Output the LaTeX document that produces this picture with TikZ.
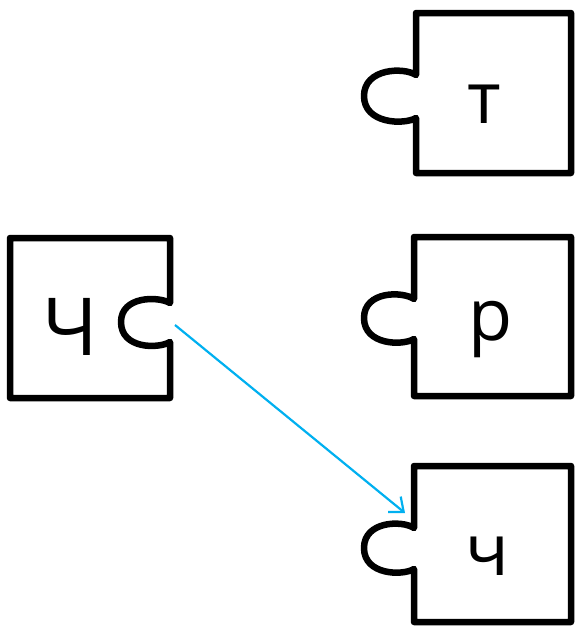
\documentclass[tikz,border=0pt]{standalone}
\usepackage{fontspec}
\newfontfamily\piecefont{Open Sans}
\usetikzlibrary{arrows.meta}
\definecolor{arrowblue}{HTML}{00B0F0}
\tikzset{
  piece/.style={draw=black,line width=6.5pt,line join=round,fill=white},
  lettercap/.style={font=\piecefont\fontsize{80}{80}\selectfont,anchor=base,inner sep=0pt},
  letterlow/.style={font=\piecefont\fontsize{72}{72}\selectfont,anchor=base,inner sep=0pt},
  link/.style={draw=arrowblue,line width=2.2pt,-{Straight Barb[length=12pt,width=20pt,line width=2.2pt]}}
}
\begin{document}
\begin{tikzpicture}[x=1pt,y=-1pt]
\useasboundingbox (0,0) rectangle (575,629);
% left piece with socket
\path[piece] (10,238) -- (170,238) -- (170,303)
  .. controls (158,296) and (121,296) .. (121,322)
  .. controls (121,349) and (158,349) .. (170,342)
  -- (170,398) -- (10,398) -- cycle;
% top right piece
\path[piece] (416,13) -- (571,13) -- (571,173) -- (416,173) -- (416,118)
  .. controls (404,125) and (364,124) .. (364,96)
  .. controls (364,68) and (404,67) .. (416,75) -- cycle;
% middle right piece
\path[piece] (414,237) -- (571,237) -- (571,396) -- (414,396) -- (414,339)
  .. controls (402,346) and (364,345) .. (364,318)
  .. controls (364,291) and (402,291) .. (414,299) -- cycle;
% bottom right piece
\path[piece] (414,466) -- (571,466) -- (571,622) -- (414,622) -- (414,569)
  .. controls (402,576) and (364,575) .. (364,548)
  .. controls (364,521) and (402,520) .. (414,528) -- cycle;
\node[lettercap] (che) at (70,355) {Ч};
\node[letterlow] (te) at (484,123) {т};
\node[letterlow] (er) at (491,340) {р};
\node[letterlow] (chelow) at (487,575) {ч};
\coordinate (astart) at (175,325);
\coordinate (aend) at (405,513);
\draw[link] (astart) -- (aend);
\end{tikzpicture}
\end{document}
